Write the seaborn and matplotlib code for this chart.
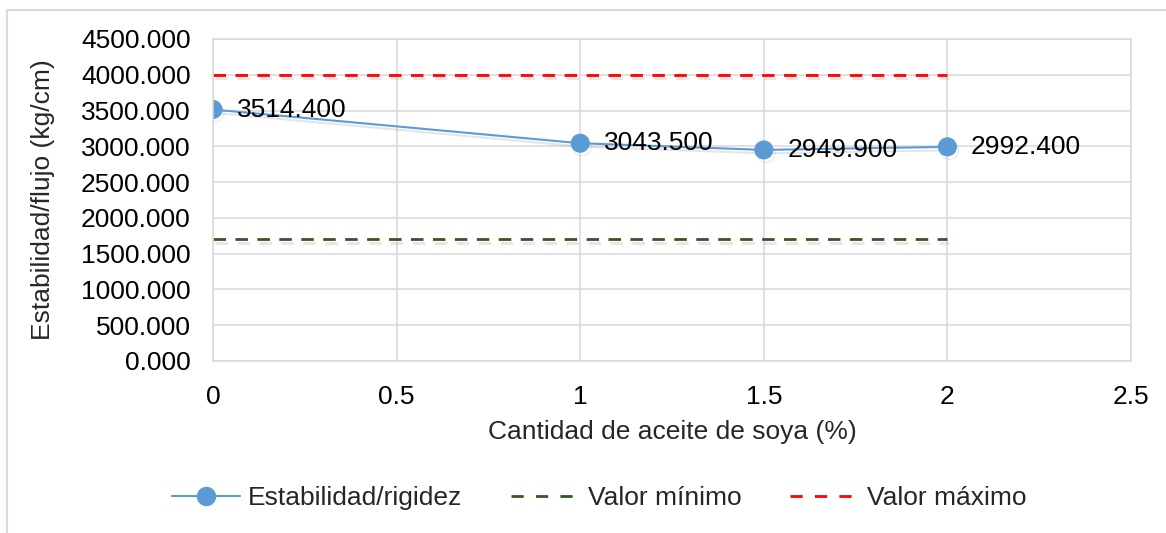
import matplotlib
matplotlib.use("Agg")
import matplotlib.pyplot as plt
import matplotlib.patheffects as pe
from matplotlib.lines import Line2D
import seaborn as sns
import pandas as pd

# Data
oil_pct = [0, 1, 1.5, 2]
stability = [3514.4, 3043.5, 2949.9, 2992.4]
min_value = [1700, 1700, 1700, 1700]
max_value = [4000, 4000, 4000, 4000]
x_ticks = [0, 0.5, 1, 1.5, 2, 2.5]
x_tick_labels = ["0", "0.5", "1", "1.5", "2", "2.5"]
y_ticks = [0, 500, 1000, 1500, 2000, 2500, 3000, 3500, 4000, 4500]

series_names = ["Estabilidad/rigidez", "Valor mínimo", "Valor máximo"]

sns.set_style("white")
plt.rcParams["font.family"] = ["Liberation Sans", "DejaVu Sans"]
plt.rcParams["font.size"] = 19

W, H = 1166, 533
fig = plt.figure(figsize=(W / 100, H / 100), dpi=100)
ax = fig.add_axes([213 / W, 1 - 361 / H, (1131 - 213) / W, (361 - 39) / H])

df = pd.DataFrame({"x": oil_pct, "est": stability, "vmin": min_value, "vmax": max_value})

blue = "#5B9BD5"
green = "#375623"
red = "#FF0000"
grid_c = "#D9D9D9"

shadow = [pe.SimpleLineShadow(offset=(1.5, -2.5), shadow_color="#808080", alpha=0.2), pe.Normal()]

sns.lineplot(data=df, x="x", y="vmin", ax=ax, color=green, linewidth=2,
             dashes=False, label=series_names[1])
sns.lineplot(data=df, x="x", y="vmax", ax=ax, color=red, linewidth=2,
             dashes=False, label=series_names[2])
sns.lineplot(data=df, x="x", y="est", ax=ax, color=blue, linewidth=1.5,
             marker="o", markersize=13, markeredgecolor=blue, label=series_names[0])

lines = ax.get_lines()
for ln in lines[:2]:
    ln.set_dashes((4.5, 3.4))
    ln.set_dash_capstyle("butt")
for ln in lines:
    ln.set_path_effects(shadow)

# Value labels to the right of each point
for xv, yv in zip(oil_pct, stability):
    ax.annotate(f"{yv:.3f}", (xv, yv), xytext=(17, 0), textcoords="offset points",
                ha="left", va="center", fontsize=19, color="black")

ax.set_xlim(0, 2.5)
ax.set_ylim(0, 4500)
ax.set_xticks(x_ticks)
ax.set_xticklabels(x_tick_labels)
ax.set_yticks(y_ticks)
ax.set_yticklabels([f"{v:.3f}" for v in y_ticks])
ax.tick_params(axis="both", length=0, labelsize=19, colors="black")
ax.tick_params(axis="x", pad=17)
ax.tick_params(axis="y", pad=16)

ax.grid(True, color=grid_c, linewidth=1.1)
for s in ax.spines.values():
    s.set_color(grid_c)
    s.set_linewidth(1.1)

ax.set_xlabel("Cantidad de aceite de soya (%)", fontsize=19, labelpad=8)
ax.set_ylabel("Estabilidad/flujo (kg/cm)", fontsize=19)
ax.yaxis.set_label_coords(-0.172, 0.5)

handles = [lines[2], lines[0], lines[1]]
leg_handles = []
for h in handles:
    lh = Line2D([], [], color=h.get_color(), linewidth=h.get_linewidth(),
                marker=h.get_marker(), markersize=h.get_markersize(),
                markeredgecolor=h.get_markeredgecolor())
    if h is not lines[2]:
        lh.set_dashes((4.4, 4.4))
        lh.set_dash_capstyle("butt")
    leg_handles.append(lh)
ax.legend(leg_handles, series_names, loc="center",
          bbox_to_anchor=(599 / W, 1 - 498 / H), bbox_transform=fig.transFigure,
          ncol=3, frameon=False, fontsize=19, handlelength=2.6,
          handletextpad=0.3, columnspacing=1.85, markerscale=1.0)

# chart area border
fig.add_artist(Line2D([7 / W, 1.0], [1 - 10 / H, 1 - 10 / H], transform=fig.transFigure,
                      color=grid_c, linewidth=1.5))
fig.add_artist(Line2D([7 / W, 7 / W], [0, 1 - 10 / H], transform=fig.transFigure,
                      color=grid_c, linewidth=1.5))

fig.savefig("out.png", dpi=100)
